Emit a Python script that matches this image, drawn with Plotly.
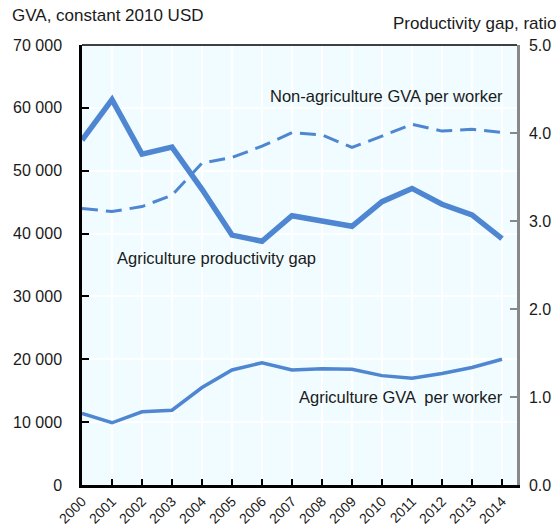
import plotly.graph_objects as go

years = list(range(2000, 2015))
agri_gap = [3.92, 4.38, 3.76, 3.84, 3.36, 2.84, 2.77, 3.06, 3.00, 2.94, 3.22, 3.37, 3.19, 3.07, 2.80]
nonagri_gva = [44000, 43500, 44300, 46100, 51200, 52100, 53900, 56050, 55700, 53700, 55500, 57400, 56300, 56600, 56100]
agri_gva = [11400, 9900, 11650, 11900, 15500, 18300, 19450, 18300, 18500, 18400, 17400, 17000, 17750, 18700, 20000]

left_ticks = [0, 10000, 20000, 30000, 40000, 50000, 60000, 70000]
right_ticks = [0, 1, 2, 3, 4, 5]

FONT = "Liberation Sans, Arial, sans-serif"
BLUE = "#4E86D2"

fig = go.Figure()
fig.add_trace(go.Scatter(x=years, y=nonagri_gva, mode="lines", yaxis="y",
                         line=dict(color=BLUE, width=3, dash="16px,8px"), name="Non-agriculture GVA per worker"))
fig.add_trace(go.Scatter(x=years, y=agri_gva, mode="lines", yaxis="y",
                         line=dict(color=BLUE, width=3.5), name="Agriculture GVA per worker"))
fig.add_trace(go.Scatter(x=years, y=agri_gap, mode="lines", yaxis="y2",
                         line=dict(color=BLUE, width=5.5), name="Agriculture productivity gap"))

fig.update_layout(
    width=560, height=528,
    margin=dict(l=82, r=43, t=45, b=43),
    paper_bgcolor="white",
    plot_bgcolor="#F0FCFF",
    showlegend=False,
    separators=". ",
    font=dict(family=FONT, size=16, color="#1a1a1a"),
    xaxis=dict(
        range=[2000, 2014.5], tickmode="array", tickvals=years, ticktext=[str(y) for y in years],
        tickangle=-45, ticks="inside", ticklen=6, tickwidth=1.5, tickcolor="black",
        showline=True, linecolor="black", linewidth=2.5, automargin=False,
        showgrid=True, gridcolor="white", gridwidth=1.5, zeroline=False,
        tickfont=dict(size=14), ticklabelstandoff=0,
    ),
    yaxis=dict(
        range=[0, 70000], tickmode="array", tickvals=left_ticks,
        tickformat=",d", ticks="inside", ticklen=7, tickwidth=1.5, tickcolor="black",
        showline=True, linecolor="black", linewidth=2.5, automargin=False,
        showgrid=True, gridcolor="white", gridwidth=1.5, zeroline=False,
        ticklabelstandoff=14,
    ),
    yaxis2=dict(
        range=[0, 5], tickmode="array", tickvals=right_ticks, tickformat=".1f",
        overlaying="y", side="right", ticks="inside", ticklen=7, tickwidth=1.5, tickcolor="#888888",
        showline=True, linecolor="#888888", linewidth=2.5, showgrid=False, zeroline=False,
        automargin=False, ticklabelstandoff=6,
    ),
    shapes=[dict(type="line", xref="paper", yref="paper", x0=0, x1=1, y0=1, y1=1,
                 line=dict(color="black", width=1.5))],
    annotations=[
        dict(text="GVA, constant 2010 USD", xref="paper", yref="paper", x=0, xshift=-72, y=1.0, yshift=30,
             xanchor="left", yanchor="middle", showarrow=False, font=dict(size=17)),
        dict(text="Productivity gap, ratio", xref="paper", yref="paper", x=1.0, xshift=41, y=1.0, yshift=22,
             xanchor="right", yanchor="middle", showarrow=False, font=dict(size=17)),
        dict(text="Non-agriculture GVA per worker", x=2014.1, y=61850, xanchor="right", yanchor="middle",
             showarrow=False, font=dict(size=16.5)),
        dict(text="Agriculture productivity gap", x=2001.1, y=36100, xanchor="left", yanchor="middle",
             showarrow=False, font=dict(size=16.5)),
        dict(text="Agriculture GVA  per worker", x=2014.1, y=14000, xanchor="right", yanchor="middle",
             showarrow=False, font=dict(size=16.5)),
    ],
)

fig.write_html("out.html", config={"displayModeBar": False},
               post_script="document.body.style.margin='0';")
